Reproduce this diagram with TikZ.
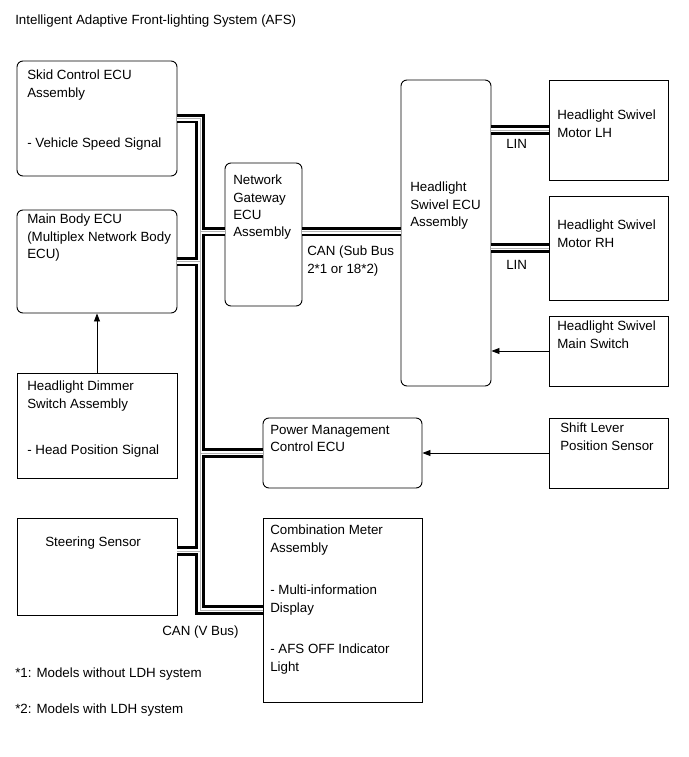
\documentclass[tikz,border=0pt]{standalone}
\usepackage{fontspec}
\setmainfont{Liberation Sans}
\usetikzlibrary{fit,arrows.meta}
\begin{document}
\begin{tikzpicture}[x=0.75pt,y=-0.75pt,
  sqbox/.style={draw, line width=0.7pt, inner sep=0pt},
  rbox/.style={sqbox, rounded corners=4.5pt},
  lbl/.style={anchor=north west, inner sep=0pt, align=left, font=\fontsize{10pt}{13pt}\selectfont},
  sig/.style={line width=0.6pt, -{Triangle[length=6pt,width=4.5pt]}}]
\useasboundingbox[fill=white] (0,0) rectangle (689,757);

% boxes
\node[rbox, fit={(17,61) (177,176)}] (skid) {};
\node[rbox, fit={(17,210) (177,313)}] (mainbody) {};
\node[sqbox, fit={(17,373) (177,478)}] (dimmer) {};
\node[sqbox, fit={(17,518) (177,615)}] (steering) {};
\node[rbox, fit={(225,163) (302,306)}] (gateway) {};
\node[rbox, fit={(401,80) (491,386)}] (swivel) {};
\node[sqbox, fit={(549,80) (668,180)}] (motorLH) {};
\node[sqbox, fit={(549,196) (668,300)}] (motorRH) {};
\node[sqbox, fit={(549,316) (668,386)}] (mainswitch) {};
\node[rbox, fit={(263,418) (422,488)}] (power) {};
\node[sqbox, fit={(549,418) (668,488)}] (shift) {};
\node[sqbox, fit={(263,518) (422,702)}] (combo) {};

% texts
\node[lbl] (title) at (15,15) {Intelligent Adaptive Front-lighting System (AFS)};
\node[lbl] (tskid) at (27,70) {Skid Control ECU\\Assembly};
\node[lbl] (tskid2) at (27,138) {- Vehicle Speed Signal};
\node[lbl] (tmain) at (27,214) {Main Body ECU\\(Multiplex Network Body\\ECU)};
\node[lbl] (tdim) at (27,381) {Headlight Dimmer\\Switch Assembly};
\node[lbl] (tdim2) at (27,445) {- Head Position Signal};
\node[lbl] (tsteer) at (45,537) {Steering Sensor};
\node[lbl] (tgate) at (233,175) {Network\\Gateway\\ECU\\Assembly};
\node[lbl] (tswiv) at (410,182) {Headlight\\Swivel ECU\\Assembly};
\node[lbl] (tlh) at (557,110) {Headlight Swivel\\Motor LH};
\node[lbl] (trh) at (557,220) {Headlight Swivel\\Motor RH};
\node[lbl] (tsw) at (557,321) {Headlight Swivel\\Main Switch};
\node[lbl] (tpow) at (270,425) {Power Management\\Control ECU};
\node[lbl] (tshift) at (560,423) {Shift Lever\\Position Sensor};
\node[lbl] (tcombo) at (270,525) {Combination Meter\\Assembly};
\node[lbl] (tcombo2) at (270,585) {- Multi-information\\Display};
\node[lbl] (tcombo3) at (270,644) {- AFS OFF Indicator\\Light};
\node[lbl] (lin1) at (506,139) {LIN};
\node[lbl] (lin2) at (506,260) {LIN};
\node[lbl] (cansub) at (307,246) {CAN (Sub Bus\\2*1 or 18*2)};
\node[lbl] (canv) at (162,626) {CAN (V Bus)};
\node[lbl] (note1) at (15,668) {*1: Models without LDH system};
\node[lbl] (note2) at (15,704) {*2: Models with LDH system};

% bus junction helpers
\coordinate (tx) at (200,0);
\coordinate (gwW) at ([yshift=2.25pt]gateway.west);
\coordinate (gwE) at ([yshift=2.25pt]gateway.east);
\coordinate (stE) at ([yshift=11.6pt]steering.east);

% buses (black, then white core, then thin grey centre)
\foreach \lw/\col in {7pt/black,3pt/white,0.4pt/black!30} {
  \draw[line width=\lw, \col]
    (skid.east) -| (tx |- combo.west) -- (combo.west)
    (tx |- gwW) -- (gwW)
    (mainbody.east) -- (tx |- mainbody.east)
    (tx |- power.west) -- (power.west)
    (stE) -- (tx |- stE)
    (gwE) -- (gwE -| swivel.west)
    (swivel.east |- motorLH.west) -- (motorLH.west)
    (swivel.east |- motorRH.west) -- (motorRH.west);
}

% signal arrows
\draw[sig] (dimmer.north) -- (mainbody.south);
\draw[sig] (mainswitch.west) -- (mainswitch.west -| swivel.east);
\draw[sig] (shift.west) -- (power.east);
\end{tikzpicture}
\end{document}
